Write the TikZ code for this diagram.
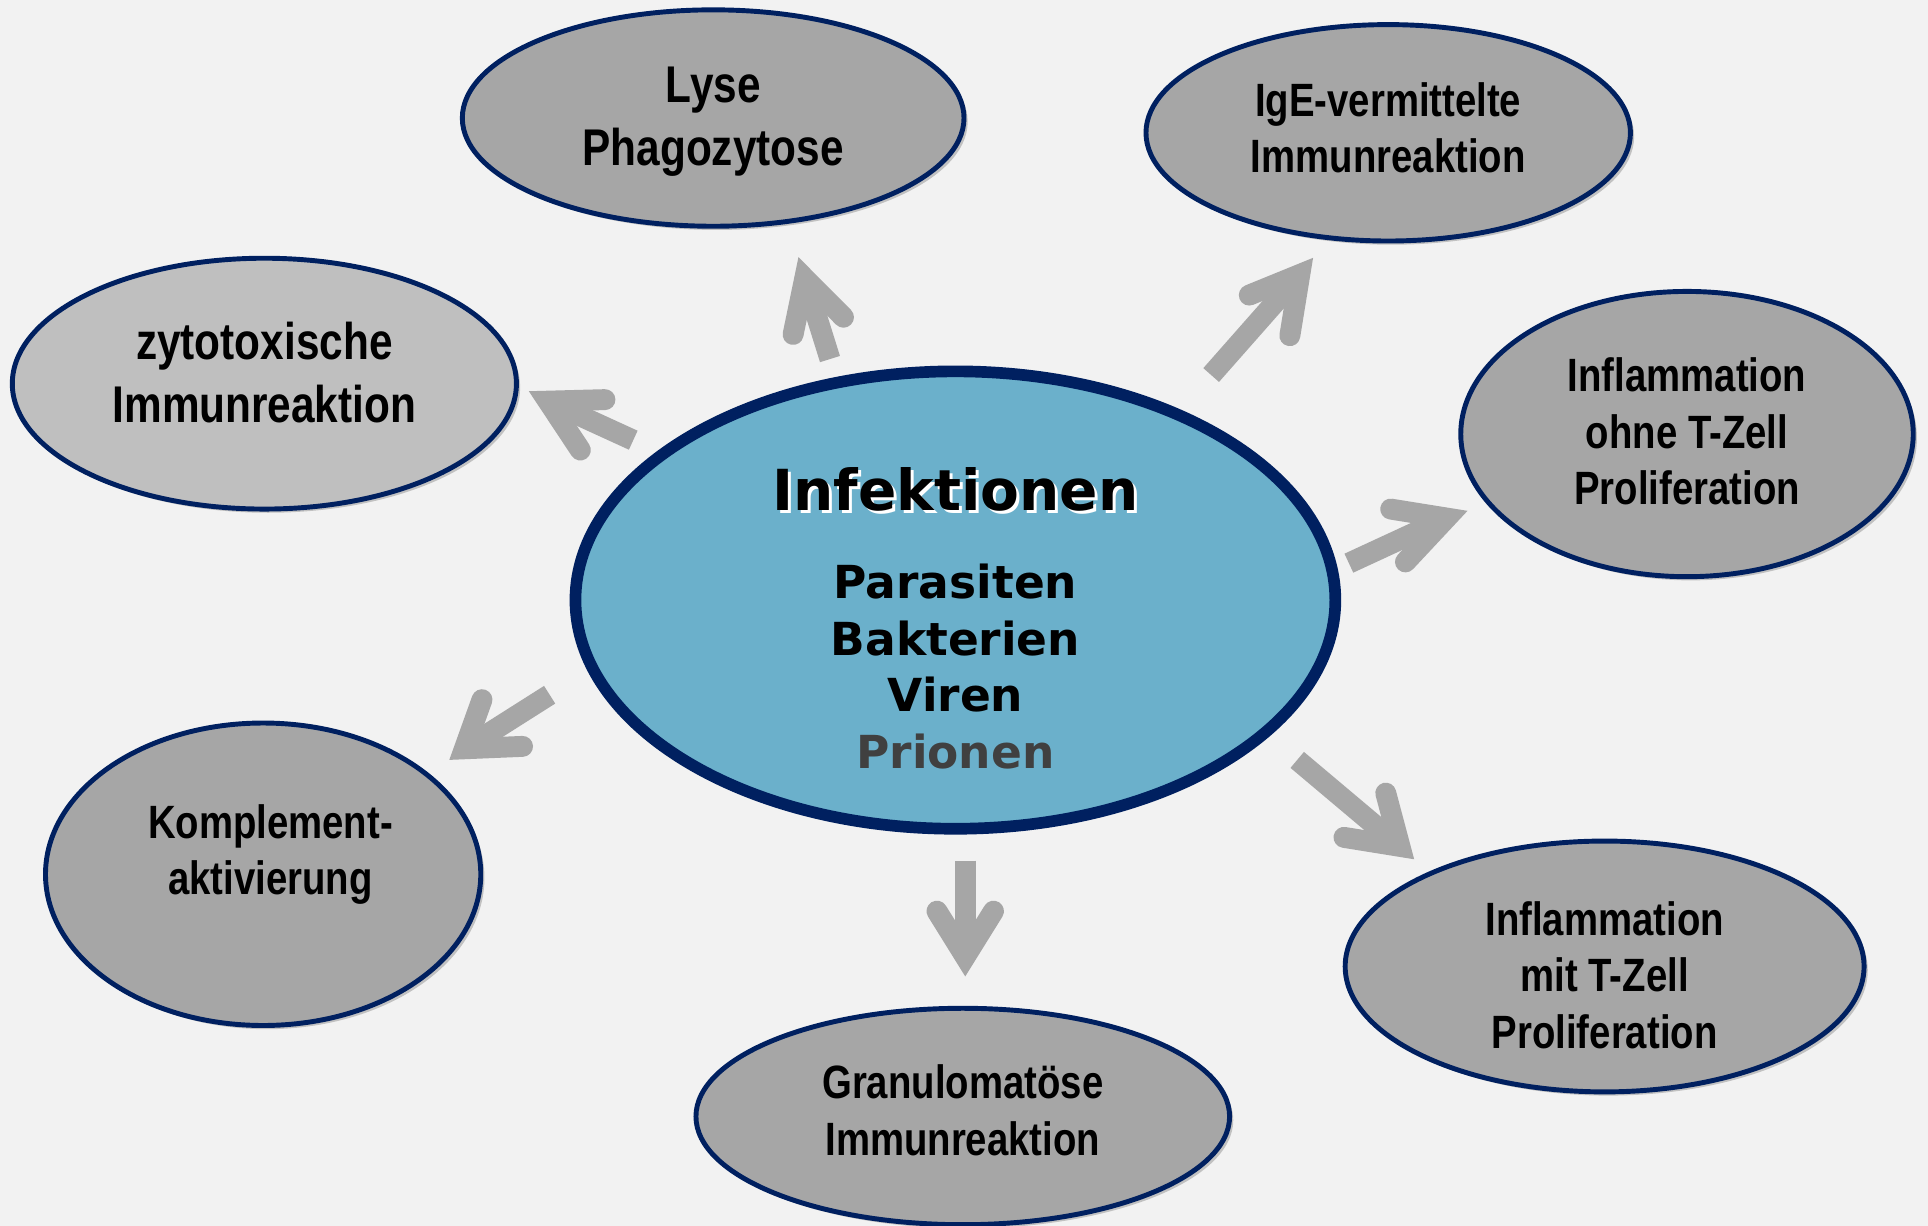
\documentclass[tikz,border=0pt]{standalone}
\usepackage{fontspec}
\usetikzlibrary{shapes.geometric,calc,shadows}
\newfontfamily\narrowbold[FakeStretch=0.82]{Liberation Sans Bold}
\newfontfamily\heavybold{DejaVu Sans Bold}
\definecolor{bgc}{HTML}{F2F2F2}
\definecolor{navy}{HTML}{002060}
\definecolor{ovalgray}{HTML}{A6A6A6}
\definecolor{ovallight}{HTML}{BFBFBF}
\definecolor{centerblue}{HTML}{6BB0CB}
\definecolor{arrowgray}{HTML}{A6A6A6}
\definecolor{prion}{HTML}{404040}
\begin{document}
\begin{tikzpicture}[x=1pt,y=-1pt,
  oval/.style={ellipse, draw=navy, line width=4pt, fill=ovalgray, inner sep=0pt, outer sep=0pt,
    drop shadow={shadow xshift=3pt, shadow yshift=-3pt, opacity=0.2, fill=black}},
  bigoval/.style={oval, line width=9.5pt, fill=centerblue},
  lbl/.style={align=center, inner sep=0pt, text=black, font=\narrowbold\fontsize{38}{46}\selectfont},
  biglbl/.style={lbl, font=\narrowbold\fontsize{42}{51}\selectfont},
  germ/.style={anchor=base, inner sep=0pt, font=\heavybold\fontsize{37}{44}\selectfont},
  shaft/.style={draw=arrowgray, line width=17pt, line cap=butt},
  barbs/.style={draw=arrowgray, line width=17pt, line cap=round, line join=miter, miter limit=10}
]
\fill[bgc] (0,0) rectangle (1568,997);
\useasboundingbox (0,0) rectangle (1568,997);

% ellipses
\node[oval, minimum width=408pt, minimum height=176pt] (lyse) at (580,96) {};
\node[oval, minimum width=394pt, minimum height=176pt] (ige) at (1129,108) {};
\node[oval, fill=ovallight, minimum width=410pt, minimum height=204pt] (zyto) at (215,312) {};
\node[oval, minimum width=368pt, minimum height=232pt] (infl1) at (1372,353) {};
\node[oval, minimum width=354pt, minimum height=246pt] (kompl) at (214,711) {};
\node[oval, minimum width=434pt, minimum height=176pt] (granu) at (783,908) {};
\node[oval, minimum width=422pt, minimum height=204pt] (infl2) at (1305,786) {};
\node[bigoval, minimum width=618pt, minimum height=372pt] (infekt) at (777,488) {};

% labels
\node[biglbl] (tlyse) at (580,99) {Lyse\\Phagozytose};
\node[lbl] (tige) at (1129,104) {IgE-vermittelte\\Immunreaktion};
\node[biglbl] (tzyto) at (215,303) {zytotoxische\\Immunreaktion};
\node[lbl] (tinfl1) at (1372,351) {Inflammation\\ohne T-Zell\\Proliferation};
\node[lbl] (tkompl) at (220,695) {Komplement-\\aktivierung};
\node[lbl] (tgranu) at (783,903) {Granulomat\"ose\\Immunreaktion};
\node[lbl] (tinfl2) at (1305,793) {Inflammation\\mit T-Zell\\Proliferation};

\node[anchor=base, inner sep=0pt, text=white, font=\heavybold\fontsize{46}{54}\selectfont] (ishadow) at (779.5,417.5) {Infektionen};
\node[anchor=base, inner sep=0pt, text=black, font=\heavybold\fontsize{46}{54}\selectfont] (titel) at (777,415) {Infektionen};
\node[germ] (para) at (777,487) {Parasiten};
\node[germ] (bakt) at (777,533) {Bakterien};
\node[germ] (vire) at (777,579) {Viren};
\node[germ, text=prion] (prio) at (777,625) {Prionen};

% arrows: tail, tip, barb ends
\foreach \n/\tx/\ty/\px/\py/\ax/\ay/\bx/\by in {
  a/675/292/650/212/645/272/686/258,
  b/985/305/1067/212/1016/240/1049/273,
  c/515/358/432/320/492/325/472/366,
  d/1097/458/1190/415/1131/414/1143/457,
  e/447/565/365/617/392/569/425/607,
  f/785/700/785/793/762/741/808/741,
  g/1055/618/1150/698/1127/645/1093/681}{
  \coordinate (\n tail) at (\tx,\ty);
  \coordinate (\n tip) at (\px,\py);
  \coordinate (\n l) at (\ax,\ay);
  \coordinate (\n r) at (\bx,\by);
  \coordinate (\n in) at ($(\n tip)!15pt!(\n tail)$);
  \draw[shaft] (\n tail) -- (\n in);
  \draw[barbs] (\n l) -- (\n in) -- (\n r);
}
\end{tikzpicture}
\end{document}
